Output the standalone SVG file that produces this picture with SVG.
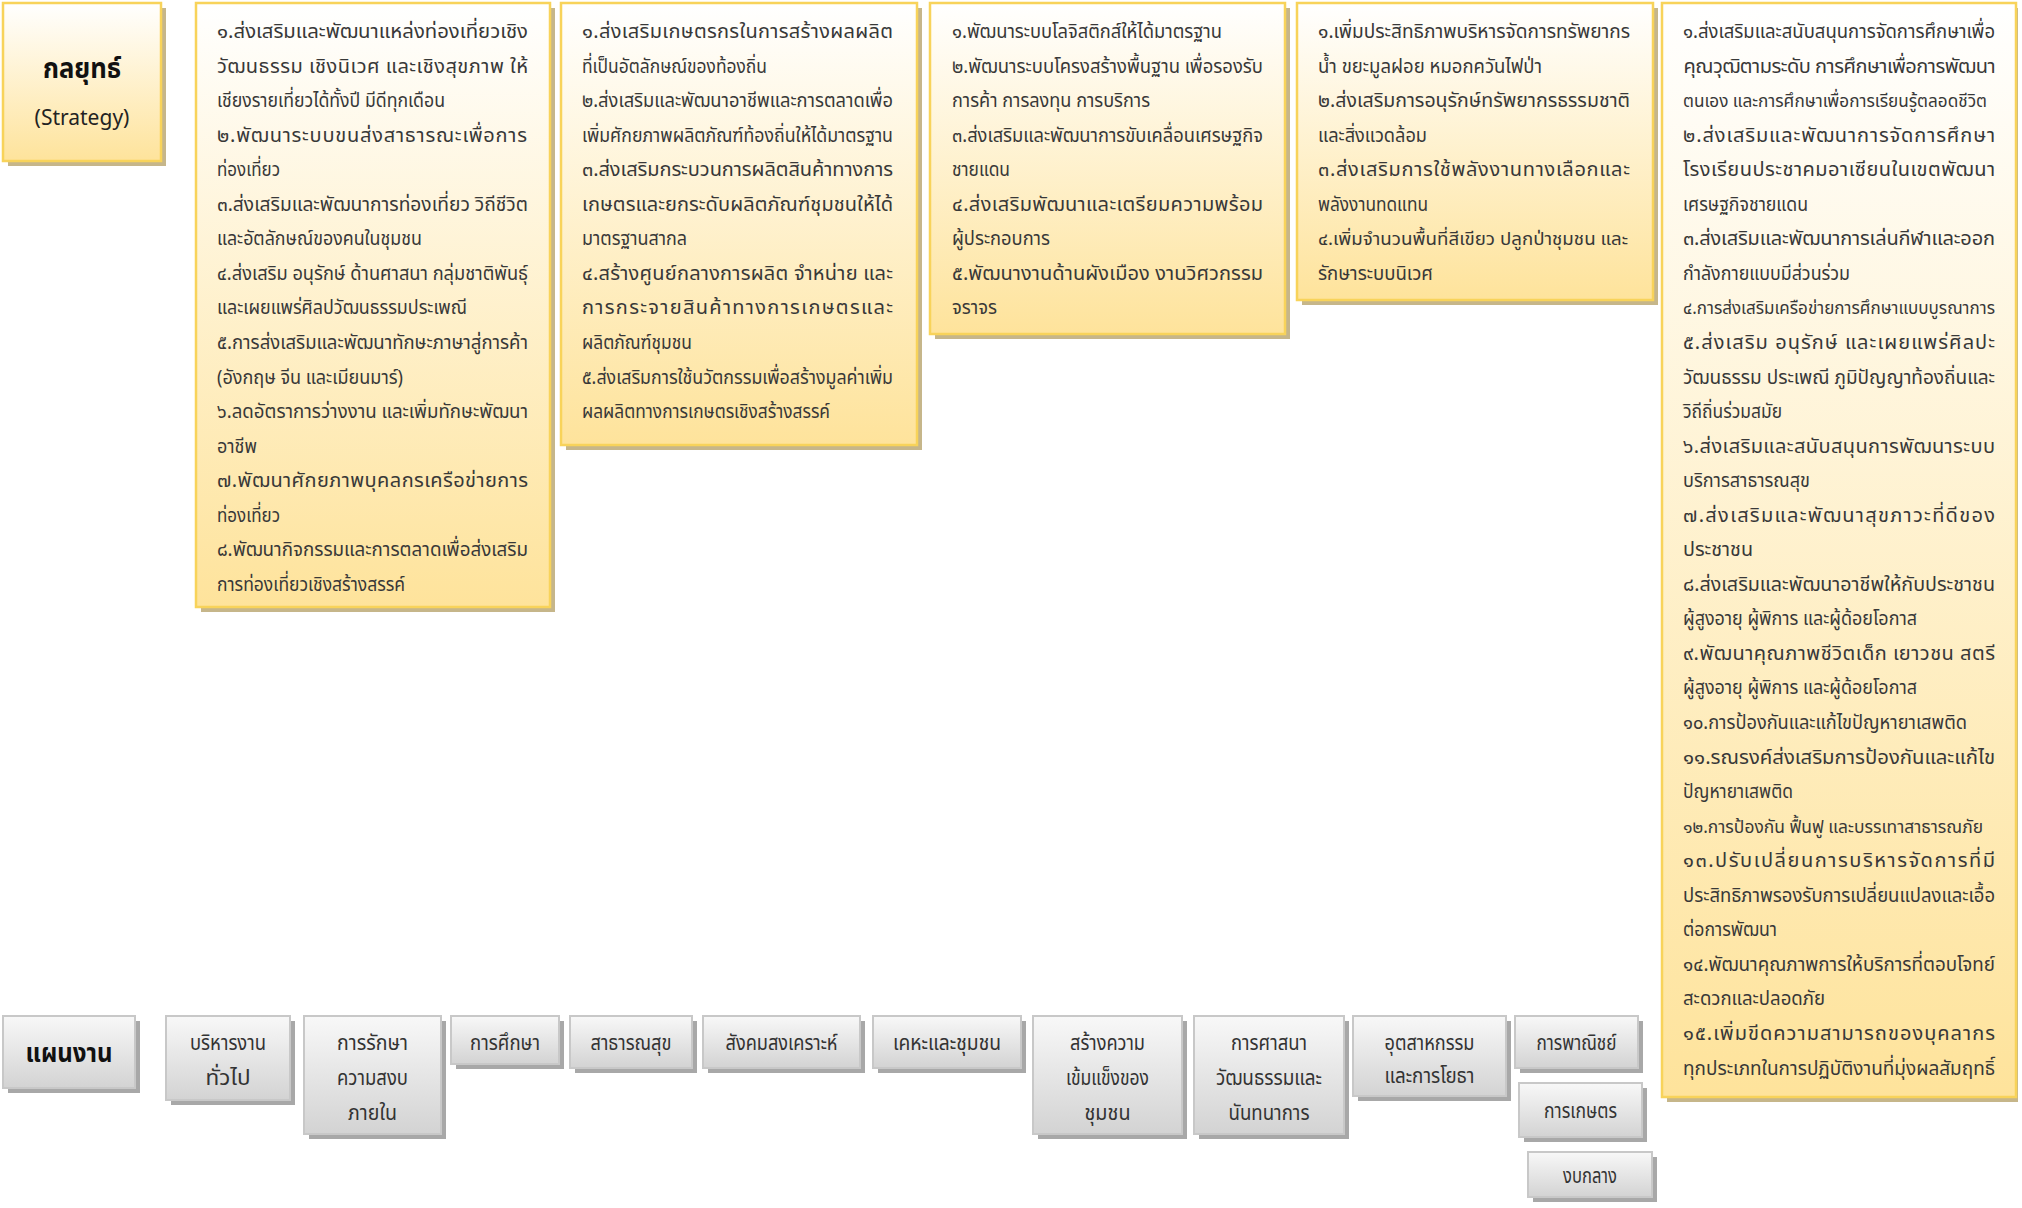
<svg xmlns="http://www.w3.org/2000/svg" width="2022" height="1208" viewBox="0 0 2022 1208">
<defs>
<linearGradient id="gy" x1="0" y1="0" x2="0" y2="1">
<stop offset="0" stop-color="#ffffff"/>
<stop offset="1" stop-color="#fee39b"/>
</linearGradient>
<linearGradient id="gg" x1="0" y1="0" x2="0" y2="1">
<stop offset="0" stop-color="#f8f8f8"/>
<stop offset="1" stop-color="#d3d3d3"/>
</linearGradient>
</defs>
<style>
.ys{fill:#c6b68a}
.yb{fill:url(#gy);stroke:#f8d35a;stroke-width:2.5}
.gs{fill:#a8a8a8}
.gb{fill:url(#gg);stroke:#c8c8c8;stroke-width:2}
.t{font-family:"Noto Sans Thai","Noto Sans Thai UI","Leelawadee UI",Tahoma,"DejaVu Sans",sans-serif;font-size:20px;fill:#383838}
.n{font-size:18px}
.p{font-family:"Noto Sans Thai","Noto Sans Thai UI","Leelawadee UI",Tahoma,"DejaVu Sans",sans-serif;font-size:22px;fill:#333;text-anchor:middle}
.h{font-family:"Noto Sans Thai","Noto Sans Thai UI","Leelawadee UI",Tahoma,"DejaVu Sans",sans-serif;font-weight:bold;fill:#111;text-anchor:middle}
</style>
<rect width="2022" height="1208" fill="#ffffff"/>

<g id="strategy">
<rect class="ys" x="8" y="8" width="158" height="158"/>
<rect class="yb" x="3" y="3" width="158" height="158"/>
<text class="h" x="82" y="78" font-size="28" textLength="78" lengthAdjust="spacingAndGlyphs">กลยุทธ์</text>
<text x="82" y="125" font-family="'Noto Sans','Open Sans',sans-serif" font-size="21" fill="#222" text-anchor="middle">(Strategy)</text>
</g>

<g id="strategy-1">
<rect class="ys" x="201" y="8" width="354" height="604"/>
<rect class="yb" x="196" y="3" width="354" height="604"/>
<text class="t" x="217" y="38" textLength="311" lengthAdjust="spacingAndGlyphs">๑.ส่งเสริมและพัฒนาแหล่งท่องเที่ยวเชิง</text>
<text class="t" x="217" y="72.55" textLength="311" lengthAdjust="spacing">วัฒนธรรม เชิงนิเวศ และเชิงสุขภาพ ให้</text>
<text class="t" x="217" y="107.1" textLength="228" lengthAdjust="spacingAndGlyphs">เชียงรายเที่ยวได้ทั้งปี มีดีทุกเดือน</text>
<text class="t" x="217" y="141.65" textLength="310" lengthAdjust="spacing">๒.พัฒนาระบบขนส่งสาธารณะเพื่อการ</text>
<text class="t" x="217" y="176.2" textLength="63" lengthAdjust="spacingAndGlyphs">ท่องเที่ยว</text>
<text class="t" x="217" y="210.75" textLength="311" lengthAdjust="spacingAndGlyphs">๓.ส่งเสริมและพัฒนาการท่องเที่ยว วิถีชีวิต</text>
<text class="t" x="217" y="245.3" textLength="205" lengthAdjust="spacingAndGlyphs">และอัตลักษณ์ของคนในชุมชน</text>
<text class="t" x="217" y="279.85" textLength="311" lengthAdjust="spacingAndGlyphs">๔.ส่งเสริม อนุรักษ์ ด้านศาสนา กลุ่มชาติพันธุ์</text>
<text class="t" x="217" y="314.4" textLength="250" lengthAdjust="spacingAndGlyphs">และเผยแพร่ศิลปวัฒนธรรมประเพณี</text>
<text class="t" x="217" y="348.95" textLength="311" lengthAdjust="spacingAndGlyphs">๕.การส่งเสริมและพัฒนาทักษะภาษาสู่การค้า</text>
<text class="t" x="217" y="383.5" textLength="186" lengthAdjust="spacingAndGlyphs">(อังกฤษ จีน และเมียนมาร์)</text>
<text class="t" x="217" y="418.05" textLength="311" lengthAdjust="spacingAndGlyphs">๖.ลดอัตราการว่างงาน และเพิ่มทักษะพัฒนา</text>
<text class="t" x="217" y="452.6" textLength="40" lengthAdjust="spacingAndGlyphs">อาชีพ</text>
<text class="t" x="217" y="487.15" textLength="311" lengthAdjust="spacing">๗.พัฒนาศักยภาพบุคลกรเครือข่ายการ</text>
<text class="t" x="217" y="521.7" textLength="63" lengthAdjust="spacingAndGlyphs">ท่องเที่ยว</text>
<text class="t" x="217" y="556.25" textLength="311" lengthAdjust="spacingAndGlyphs">๘.พัฒนากิจกรรมและการตลาดเพื่อส่งเสริม</text>
<text class="t" x="217" y="590.8" textLength="188" lengthAdjust="spacingAndGlyphs">การท่องเที่ยวเชิงสร้างสรรค์</text>
</g>

<g id="strategy-2">
<rect class="ys" x="566" y="8" width="356" height="442"/>
<rect class="yb" x="561" y="3" width="356" height="442"/>
<text class="t" x="582" y="38" textLength="311" lengthAdjust="spacing">๑.ส่งเสริมเกษตรกรในการสร้างผลผลิต</text>
<text class="t" x="582" y="72.55" textLength="185" lengthAdjust="spacingAndGlyphs">ที่เป็นอัตลักษณ์ของท้องถิ่น</text>
<text class="t" x="582" y="107.1" textLength="311" lengthAdjust="spacingAndGlyphs">๒.ส่งเสริมและพัฒนาอาชีพและการตลาดเพื่อ</text>
<text class="t" x="582" y="141.65" textLength="311" lengthAdjust="spacingAndGlyphs">เพิ่มศักยภาพผลิตภัณฑ์ท้องถิ่นให้ได้มาตรฐาน</text>
<text class="t" x="582" y="176.2" textLength="311" lengthAdjust="spacing">๓.ส่งเสริมกระบวนการผลิตสินค้าทางการ</text>
<text class="t" x="582" y="210.75" textLength="311" lengthAdjust="spacing">เกษตรและยกระดับผลิตภัณฑ์ชุมชนให้ได้</text>
<text class="t" x="582" y="245.3" textLength="105" lengthAdjust="spacingAndGlyphs">มาตรฐานสากล</text>
<text class="t" x="582" y="279.85" textLength="311" lengthAdjust="spacing">๔.สร้างศูนย์กลางการผลิต จำหน่าย และ</text>
<text class="t" x="582" y="314.4" textLength="311" lengthAdjust="spacing">การกระจายสินค้าทางการเกษตรและ</text>
<text class="t" x="582" y="348.95" textLength="110" lengthAdjust="spacingAndGlyphs">ผลิตภัณฑ์ชุมชน</text>
<text class="t" x="582" y="383.5" textLength="311" lengthAdjust="spacingAndGlyphs">๕.ส่งเสริมการใช้นวัตกรรมเพื่อสร้างมูลค่าเพิ่ม</text>
<text class="t" x="582" y="418.05" textLength="248" lengthAdjust="spacingAndGlyphs">ผลผลิตทางการเกษตรเชิงสร้างสรรค์</text>
</g>

<g id="strategy-3">
<rect class="ys" x="935" y="8" width="355" height="331"/>
<rect class="yb" x="930" y="3" width="355" height="331"/>
<text class="t" x="952" y="38" textLength="270" lengthAdjust="spacingAndGlyphs">๑.พัฒนาระบบโลจิสติกส์ให้ได้มาตรฐาน</text>
<text class="t" x="952" y="72.55" textLength="311" lengthAdjust="spacingAndGlyphs">๒.พัฒนาระบบโครงสร้างพื้นฐาน เพื่อรองรับ</text>
<text class="t" x="952" y="107.1" textLength="198" lengthAdjust="spacingAndGlyphs">การค้า การลงทุน การบริการ</text>
<text class="t" x="952" y="141.65" textLength="311" lengthAdjust="spacingAndGlyphs">๓.ส่งเสริมและพัฒนาการขับเคลื่อนเศรษฐกิจ</text>
<text class="t" x="952" y="176.2" textLength="58" lengthAdjust="spacingAndGlyphs">ชายแดน</text>
<text class="t" x="952" y="210.75" textLength="311" lengthAdjust="spacing">๔.ส่งเสริมพัฒนาและเตรียมความพร้อม</text>
<text class="t" x="952" y="245.3" textLength="98" lengthAdjust="spacingAndGlyphs">ผู้ประกอบการ</text>
<text class="t" x="952" y="279.85" textLength="311" lengthAdjust="spacing">๕.พัฒนางานด้านผังเมือง งานวิศวกรรม</text>
<text class="t" x="952" y="314.4" textLength="45" lengthAdjust="spacingAndGlyphs">จราจร</text>
</g>

<g id="strategy-4">
<rect class="ys" x="1302" y="8" width="356" height="297"/>
<rect class="yb" x="1297" y="3" width="356" height="297"/>
<text class="t" x="1318" y="38" textLength="312" lengthAdjust="spacingAndGlyphs">๑.เพิ่มประสิทธิภาพบริหารจัดการทรัพยากร</text>
<text class="t" x="1318" y="72.55" textLength="224" lengthAdjust="spacingAndGlyphs">น้ำ ขยะมูลฝอย หมอกควันไฟป่า</text>
<text class="t" x="1318" y="107.1" textLength="312" lengthAdjust="spacingAndGlyphs">๒.ส่งเสริมการอนุรักษ์ทรัพยากรธรรมชาติ</text>
<text class="t" x="1318" y="141.65" textLength="109" lengthAdjust="spacingAndGlyphs">และสิ่งแวดล้อม</text>
<text class="t" x="1318" y="176.2" textLength="312" lengthAdjust="spacing">๓.ส่งเสริมการใช้พลังงานทางเลือกและ</text>
<text class="t" x="1318" y="210.75" textLength="110" lengthAdjust="spacingAndGlyphs">พลังงานทดแทน</text>
<text class="t n" x="1318" y="245.3" textLength="310" lengthAdjust="spacingAndGlyphs">๔.เพิ่มจำนวนพื้นที่สีเขียว ปลูกป่าชุมชน และ</text>
<text class="t" x="1318" y="279.85" textLength="115" lengthAdjust="spacingAndGlyphs">รักษาระบบนิเวศ</text>
</g>

<g id="strategy-5">
<rect class="ys" x="1667" y="8" width="351" height="1094"/>
<rect class="yb" x="1662" y="3" width="354" height="1094"/>
<text class="t" x="1683" y="38" textLength="312" lengthAdjust="spacingAndGlyphs">๑.ส่งเสริมและสนับสนุนการจัดการศึกษาเพื่อ</text>
<text class="t" x="1683" y="72.55" textLength="312" lengthAdjust="spacing">คุณวุฒิตามระดับ การศึกษาเพื่อการพัฒนา</text>
<text class="t n" x="1683" y="107.1" textLength="304" lengthAdjust="spacingAndGlyphs">ตนเอง และการศึกษาเพื่อการเรียนรู้ตลอดชีวิต</text>
<text class="t" x="1683" y="141.65" textLength="312" lengthAdjust="spacing">๒.ส่งเสริมและพัฒนาการจัดการศึกษา</text>
<text class="t" x="1683" y="176.2" textLength="312" lengthAdjust="spacing">โรงเรียนประชาคมอาเซียนในเขตพัฒนา</text>
<text class="t" x="1683" y="210.75" textLength="125" lengthAdjust="spacingAndGlyphs">เศรษฐกิจชายแดน</text>
<text class="t" x="1683" y="245.3" textLength="312" lengthAdjust="spacing">๓.ส่งเสริมและพัฒนาการเล่นกีฬาและออก</text>
<text class="t" x="1683" y="279.85" textLength="167" lengthAdjust="spacingAndGlyphs">กำลังกายแบบมีส่วนร่วม</text>
<text class="t n" x="1683" y="314.4" textLength="312" lengthAdjust="spacingAndGlyphs">๔.การส่งเสริมเครือข่ายการศึกษาแบบบูรณาการ</text>
<text class="t" x="1683" y="348.95" textLength="312" lengthAdjust="spacing">๕.ส่งเสริม อนุรักษ์ และเผยแพร่ศิลปะ</text>
<text class="t" x="1683" y="383.5" textLength="312" lengthAdjust="spacingAndGlyphs">วัฒนธรรม ประเพณี ภูมิปัญญาท้องถิ่นและ</text>
<text class="t" x="1683" y="418.05" textLength="99" lengthAdjust="spacingAndGlyphs">วิถีถิ่นร่วมสมัย</text>
<text class="t" x="1683" y="452.6" textLength="312" lengthAdjust="spacing">๖.ส่งเสริมและสนับสนุนการพัฒนาระบบ</text>
<text class="t" x="1683" y="487.15" textLength="127" lengthAdjust="spacingAndGlyphs">บริการสาธารณสุข</text>
<text class="t" x="1683" y="521.7" textLength="312" lengthAdjust="spacing">๗.ส่งเสริมและพัฒนาสุขภาวะที่ดีของ</text>
<text class="t" x="1683" y="556.25" textLength="70" lengthAdjust="spacingAndGlyphs">ประชาชน</text>
<text class="t" x="1683" y="590.8" textLength="312" lengthAdjust="spacingAndGlyphs">๘.ส่งเสริมและพัฒนาอาชีพให้กับประชาชน</text>
<text class="t" x="1683" y="625.35" textLength="234" lengthAdjust="spacingAndGlyphs">ผู้สูงอายุ ผู้พิการ และผู้ด้อยโอกาส</text>
<text class="t" x="1683" y="659.9" textLength="312" lengthAdjust="spacing">๙.พัฒนาคุณภาพชีวิตเด็ก เยาวชน สตรี</text>
<text class="t" x="1683" y="694.45" textLength="234" lengthAdjust="spacingAndGlyphs">ผู้สูงอายุ ผู้พิการ และผู้ด้อยโอกาส</text>
<text class="t" x="1683" y="729" textLength="284" lengthAdjust="spacingAndGlyphs">๑๐.การป้องกันและแก้ไขปัญหายาเสพติด</text>
<text class="t" x="1683" y="763.55" textLength="312" lengthAdjust="spacingAndGlyphs">๑๑.รณรงค์ส่งเสริมการป้องกันและแก้ไข</text>
<text class="t" x="1683" y="798.1" textLength="110" lengthAdjust="spacingAndGlyphs">ปัญหายาเสพติด</text>
<text class="t n" x="1683" y="832.65" textLength="300" lengthAdjust="spacingAndGlyphs">๑๒.การป้องกัน ฟื้นฟู และบรรเทาสาธารณภัย</text>
<text class="t" x="1683" y="867.2" textLength="312" lengthAdjust="spacing">๑๓.ปรับเปลี่ยนการบริหารจัดการที่มี</text>
<text class="t" x="1683" y="901.75" textLength="312" lengthAdjust="spacingAndGlyphs">ประสิทธิภาพรองรับการเปลี่ยนแปลงและเอื้อ</text>
<text class="t" x="1683" y="936.3" textLength="94" lengthAdjust="spacingAndGlyphs">ต่อการพัฒนา</text>
<text class="t" x="1683" y="970.85" textLength="312" lengthAdjust="spacingAndGlyphs">๑๔.พัฒนาคุณภาพการให้บริการที่ตอบโจทย์</text>
<text class="t" x="1683" y="1005.4" textLength="142" lengthAdjust="spacingAndGlyphs">สะดวกและปลอดภัย</text>
<text class="t" x="1683" y="1039.95" textLength="312" lengthAdjust="spacing">๑๕.เพิ่มขีดความสามารถของบุคลากร</text>
<text class="t" x="1683" y="1074.5" textLength="312" lengthAdjust="spacingAndGlyphs">ทุกประเภทในการปฏิบัติงานที่มุ่งผลสัมฤทธิ์</text>
</g>

<g id="plan">
<rect class="gs" x="8" y="1021" width="132" height="72"/>
<rect class="gb" x="3" y="1016" width="132" height="72"/>
<text class="h" x="69" y="1062" font-size="27" textLength="87" lengthAdjust="spacingAndGlyphs">แผนงาน</text>
</g>

<g id="plan-general">
<rect class="gs" x="171" y="1021" width="124" height="84"/>
<rect class="gb" x="166" y="1016" width="124" height="84"/>
<text class="p" x="228" y="1050" textLength="76" lengthAdjust="spacingAndGlyphs">บริหารงาน</text>
<text class="p" x="228" y="1085" textLength="45" lengthAdjust="spacingAndGlyphs">ทั่วไป</text>
</g>

<g id="plan-security">
<rect class="gs" x="309" y="1021" width="137" height="118"/>
<rect class="gb" x="304" y="1016" width="137" height="118"/>
<text class="p" x="372.5" y="1050" textLength="71" lengthAdjust="spacingAndGlyphs">การรักษา</text>
<text class="p" x="372.5" y="1085" textLength="71" lengthAdjust="spacingAndGlyphs">ความสงบ</text>
<text class="p" x="372.5" y="1120" textLength="49" lengthAdjust="spacingAndGlyphs">ภายใน</text>
</g>

<g id="plan-education">
<rect class="gs" x="456" y="1021" width="108" height="48"/>
<rect class="gb" x="451" y="1016" width="108" height="48"/>
<text class="p" x="505" y="1050" textLength="70" lengthAdjust="spacingAndGlyphs">การศึกษา</text>
</g>

<g id="plan-health">
<rect class="gs" x="575" y="1021" width="122" height="52"/>
<rect class="gb" x="570" y="1016" width="122" height="52"/>
<text class="p" x="631" y="1050" textLength="81" lengthAdjust="spacingAndGlyphs">สาธารณสุข</text>
</g>

<g id="plan-welfare">
<rect class="gs" x="708" y="1021" width="157" height="52"/>
<rect class="gb" x="703" y="1016" width="157" height="52"/>
<text class="p" x="781.5" y="1050" textLength="112" lengthAdjust="spacingAndGlyphs">สังคมสงเคราะห์</text>
</g>

<g id="plan-housing">
<rect class="gs" x="878" y="1021" width="148" height="52"/>
<rect class="gb" x="873" y="1016" width="148" height="52"/>
<text class="p" x="947" y="1050" textLength="108" lengthAdjust="spacingAndGlyphs">เคหะและชุมชน</text>
</g>

<g id="plan-community">
<rect class="gs" x="1038" y="1021" width="149" height="118"/>
<rect class="gb" x="1033" y="1016" width="149" height="118"/>
<text class="p" x="1107.5" y="1050" textLength="75" lengthAdjust="spacingAndGlyphs">สร้างความ</text>
<text class="p" x="1107.5" y="1085" textLength="83" lengthAdjust="spacingAndGlyphs">เข้มแข็งของ</text>
<text class="p" x="1107.5" y="1120" textLength="46" lengthAdjust="spacingAndGlyphs">ชุมชน</text>
</g>

<g id="plan-religion">
<rect class="gs" x="1199" y="1021" width="150" height="118"/>
<rect class="gb" x="1194" y="1016" width="150" height="118"/>
<text class="p" x="1269" y="1050" textLength="76" lengthAdjust="spacingAndGlyphs">การศาสนา</text>
<text class="p" x="1269" y="1085" textLength="106" lengthAdjust="spacingAndGlyphs">วัฒนธรรมและ</text>
<text class="p" x="1269" y="1120" textLength="81" lengthAdjust="spacingAndGlyphs">นันทนาการ</text>
</g>

<g id="plan-industry">
<rect class="gs" x="1358" y="1021" width="153" height="80"/>
<rect class="gb" x="1353" y="1016" width="153" height="80"/>
<text class="p" x="1429.5" y="1050" textLength="90" lengthAdjust="spacingAndGlyphs">อุตสาหกรรม</text>
<text class="p" x="1429.5" y="1083" textLength="90" lengthAdjust="spacingAndGlyphs">และการโยธา</text>
</g>

<g id="plan-commerce">
<rect class="gs" x="1520" y="1021" width="123" height="52"/>
<rect class="gb" x="1515" y="1016" width="123" height="52"/>
<text class="p" x="1576.5" y="1050" textLength="80" lengthAdjust="spacingAndGlyphs">การพาณิชย์</text>
</g>

<g id="plan-agriculture">
<rect class="gs" x="1524" y="1088" width="123" height="54"/>
<rect class="gb" x="1519" y="1083" width="123" height="54"/>
<text class="p" x="1580.5" y="1118" textLength="73" lengthAdjust="spacingAndGlyphs">การเกษตร</text>
</g>

<g id="plan-central">
<rect class="gs" x="1533" y="1157" width="124" height="45"/>
<rect class="gb" x="1528" y="1152" width="124" height="45"/>
<text class="p" x="1590" y="1183" textLength="54" lengthAdjust="spacingAndGlyphs">งบกลาง</text>
</g>

<g id="connectors"/>
</svg>
